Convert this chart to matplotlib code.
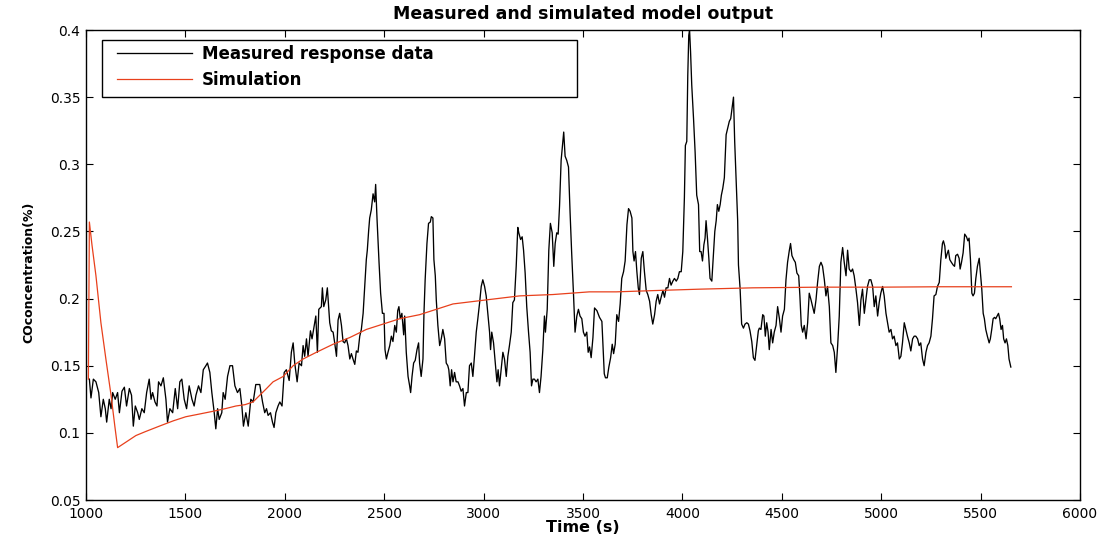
import matplotlib
matplotlib.use("Agg")
import matplotlib.pyplot as plt
from matplotlib.patches import Rectangle

plt.rcParams["font.family"] = ["DejaVu Sans"]

# Measured CO concentration (%) versus time (s)
meas_t = [
    1017, 1025, 1037, 1050, 1064, 1075, 1087, 1097, 1104, 1117, 1126, 1134, 1147, 1159,
    1168, 1181, 1193, 1204, 1218, 1229, 1238, 1248, 1260, 1268, 1281, 1293, 1305, 1318,
    1327, 1335, 1347, 1357, 1365, 1377, 1389, 1402, 1410, 1422, 1436, 1449, 1461, 1472,
    1482, 1494, 1506, 1519, 1533, 1544, 1553, 1566, 1578, 1590, 1603, 1611, 1623, 1633,
    1645, 1653, 1662, 1670, 1683, 1690, 1700, 1712, 1724, 1737, 1749, 1762, 1774, 1784,
    1792, 1804, 1816, 1829, 1841, 1854,
    1874, 1888, 1899, 1908, 1916, 1928, 1938, 1946, 1955, 1966, 1975, 1986, 1997, 2008,
    2022, 2033, 2042, 2050, 2062, 2072, 2084, 2092, 2100, 2109, 2117, 2129, 2137, 2146,
    2156, 2164, 2171, 2184, 2189, 2196, 2206, 2214, 2226, 2234, 2243, 2251, 2260, 2268,
    2276, 2285, 2293, 2301, 2310, 2318, 2327, 2335, 2343, 2352, 2360, 2368, 2377, 2385,
    2394, 2402, 2410, 2415, 2422, 2427, 2435, 2444, 2452, 2457, 2464, 2474, 2482, 2491,
    2499, 2504, 2511, 2519, 2528, 2536, 2544, 2553, 2561, 2568, 2574, 2581, 2589, 2598,
    2603, 2611, 2620, 2628, 2633, 2640, 2648, 2656, 2665, 2673, 2678,
    2686, 2695, 2700, 2706, 2715, 2723, 2732, 2737, 2745, 2750, 2757, 2762, 2770, 2779,
    2787, 2795, 2804, 2812, 2820, 2825, 2832, 2839, 2846, 2854, 2862, 2871, 2879, 2887,
    2896, 2904, 2913, 2921, 2929, 2938, 2946, 2954, 2963, 2971, 2980, 2988, 2996, 3005,
    3013, 3021, 3030, 3035, 3041, 3050, 3060, 3067, 3073, 3080, 3088, 3097, 3105, 3114,
    3122, 3130, 3139, 3147, 3155, 3164, 3172, 3177, 3186, 3194, 3201, 3209, 3217, 3226,
    3234, 3241, 3248, 3256, 3264, 3273, 3281, 3289, 3298, 3306, 3311, 3320, 3328, 3336,
    3345, 3353, 3360, 3368, 3375, 3382, 3390, 3398, 3403, 3410, 3418, 3427, 3435, 3443,
    3452, 3460, 3469, 3477, 3485, 3494, 3502, 3510, 3519, 3526,
    3533, 3541, 3550, 3558, 3570, 3583, 3595, 3600, 3607, 3613, 3622, 3630, 3639, 3647,
    3654, 3662, 3670, 3679, 3687, 3695, 3704, 3712, 3721, 3729, 3737, 3746, 3751, 3757,
    3764, 3771, 3778, 3784, 3793, 3801, 3809, 3818, 3826, 3835, 3843, 3851, 3860, 3868,
    3876, 3885, 3893, 3902, 3910, 3918, 3927, 3935, 3943, 3952, 3960, 3969, 3977, 3985,
    3994, 4002, 4010, 4015, 4022, 4027, 4032, 4036, 4041, 4047, 4056, 4064, 4072, 4081,
    4087, 4094, 4101, 4108, 4114, 4119, 4126, 4133, 4139, 4148, 4156, 4163, 4170, 4176,
    4183, 4190, 4196, 4203, 4211, 4220, 4228, 4236, 4243, 4250, 4257, 4263, 4270, 4278,
    4282, 4290, 4298, 4307, 4315, 4324, 4332, 4340, 4349, 4357, 4365, 4374, 4382, 4387,
    4395, 4404, 4410, 4417, 4424, 4431, 4437, 4446, 4454, 4462, 4471, 4479, 4488, 4496,
    4504, 4513, 4521, 4529, 4538, 4544, 4551, 4560, 4568, 4576, 4585, 4591, 4598, 4605,
    4613, 4622, 4630, 4638, 4647, 4655, 4663, 4672, 4680, 4689, 4697, 4705, 4714, 4722,
    4730, 4739, 4747, 4756, 4764, 4772, 4781, 4789, 4797, 4806, 4814, 4823, 4831, 4839,
    4848, 4856, 4864, 4873, 4881, 4890, 4898, 4906, 4915, 4923, 4931, 4940, 4948, 4957,
    4965, 4973, 4982, 4990, 4998, 5007, 5015, 5024, 5032, 5040, 5049, 5057, 5065, 5074,
    5082, 5091, 5099, 5107, 5116, 5124, 5132, 5141, 5149, 5158, 5166, 5174, 5183, 5191,
    5199, 5208, 5216, 5225, 5233, 5241,
    5250, 5258, 5266, 5275, 5283, 5292, 5300, 5308, 5313, 5320, 5325, 5333, 5338, 5345,
    5353, 5362, 5369, 5375, 5384, 5392, 5397, 5404, 5412, 5420, 5429, 5436, 5442, 5449,
    5456, 5462, 5469, 5476, 5484, 5493, 5499, 5506, 5513, 5519, 5526, 5534, 5543, 5549,
    5556, 5563, 5570, 5576, 5583, 5590, 5596, 5603, 5610, 5616, 5623, 5630, 5637, 5643,
    5652,
]
meas_v = [
    0.140, 0.126, 0.140, 0.138, 0.130, 0.112, 0.125, 0.118, 0.108, 0.125, 0.118, 0.130, 0.125, 0.130,
    0.115, 0.131, 0.134, 0.120, 0.133, 0.128, 0.105, 0.120, 0.115, 0.110, 0.118, 0.115, 0.130, 0.140,
    0.125, 0.130, 0.123, 0.120, 0.138, 0.135, 0.141, 0.125, 0.108, 0.118, 0.115, 0.133, 0.118, 0.138,
    0.140, 0.125, 0.118, 0.135, 0.125, 0.120, 0.128, 0.135, 0.130, 0.147, 0.150, 0.152, 0.145, 0.130,
    0.115, 0.103, 0.118, 0.110, 0.115, 0.130, 0.125, 0.142, 0.150, 0.150, 0.135, 0.130, 0.133, 0.120,
    0.105, 0.115, 0.105, 0.125, 0.123, 0.136,
    0.136, 0.123, 0.115, 0.118, 0.113, 0.115, 0.108, 0.104, 0.115, 0.120, 0.123, 0.120, 0.145, 0.147,
    0.139, 0.160, 0.167, 0.152, 0.138, 0.152, 0.150, 0.165, 0.157, 0.170, 0.157, 0.176, 0.170, 0.178,
    0.187, 0.160, 0.192, 0.194, 0.208, 0.194, 0.199, 0.208, 0.182, 0.176, 0.175, 0.167, 0.157, 0.184,
    0.189, 0.180, 0.168, 0.167, 0.170, 0.165, 0.155, 0.159, 0.155, 0.151, 0.161, 0.160, 0.172, 0.177,
    0.189, 0.209, 0.229, 0.236, 0.251, 0.260, 0.266, 0.278, 0.272, 0.285, 0.259, 0.227, 0.204, 0.189,
    0.189, 0.162, 0.155, 0.160, 0.165, 0.172, 0.168, 0.180, 0.175, 0.191, 0.194, 0.185, 0.189, 0.173,
    0.187, 0.160, 0.142, 0.135, 0.130, 0.142, 0.152, 0.154, 0.162, 0.167, 0.152,
    0.142, 0.155, 0.189, 0.214, 0.241, 0.256, 0.257, 0.261, 0.260, 0.229, 0.217, 0.199, 0.180, 0.165,
    0.170, 0.177, 0.170, 0.152, 0.150, 0.147, 0.135, 0.147, 0.138, 0.145, 0.138, 0.138, 0.135, 0.131,
    0.133, 0.120, 0.130, 0.130, 0.150, 0.152, 0.142, 0.157, 0.175, 0.185, 0.197, 0.209, 0.214, 0.209,
    0.202, 0.189, 0.175, 0.162, 0.175, 0.167, 0.150, 0.138, 0.147, 0.135, 0.147, 0.160, 0.155, 0.142,
    0.157, 0.165, 0.175, 0.197, 0.199, 0.224, 0.253, 0.249, 0.244, 0.246, 0.236, 0.219, 0.194, 0.175,
    0.160, 0.135, 0.140, 0.140, 0.138, 0.140, 0.130, 0.142, 0.162, 0.187, 0.175, 0.192, 0.236, 0.256,
    0.249, 0.224, 0.241, 0.249, 0.248, 0.269, 0.303, 0.316, 0.324, 0.306, 0.303, 0.298, 0.264, 0.234,
    0.204, 0.175, 0.187, 0.192, 0.187, 0.185, 0.175, 0.172, 0.175, 0.160,
    0.164, 0.156, 0.171, 0.193, 0.191, 0.186, 0.183, 0.166, 0.144, 0.141, 0.141, 0.149, 0.156, 0.166,
    0.159, 0.166, 0.188, 0.183, 0.196, 0.215, 0.220, 0.228, 0.255, 0.267, 0.265, 0.260, 0.235, 0.228,
    0.235, 0.220, 0.208, 0.203, 0.230, 0.235, 0.220, 0.206, 0.203, 0.198, 0.188, 0.181, 0.188, 0.198,
    0.203, 0.196, 0.201, 0.206, 0.201, 0.208, 0.208, 0.215, 0.210, 0.213, 0.215, 0.213, 0.215, 0.220,
    0.220, 0.235, 0.275, 0.314, 0.317, 0.366, 0.396, 0.400, 0.384, 0.359, 0.334, 0.309, 0.277, 0.270,
    0.235, 0.235, 0.228, 0.240, 0.245, 0.258, 0.245, 0.230, 0.215, 0.213, 0.233, 0.250, 0.258, 0.270,
    0.265, 0.270, 0.277, 0.282, 0.290, 0.322, 0.327, 0.332, 0.334, 0.342, 0.350, 0.317, 0.290, 0.258,
    0.225, 0.208, 0.181, 0.178, 0.181, 0.182, 0.181, 0.176, 0.168, 0.156, 0.154, 0.166, 0.176, 0.178,
    0.177, 0.188, 0.187, 0.172, 0.182, 0.175, 0.162, 0.177, 0.167, 0.175, 0.180, 0.194, 0.185, 0.175,
    0.187, 0.192, 0.214, 0.227, 0.236, 0.241, 0.232, 0.229, 0.227, 0.219, 0.217, 0.202, 0.180, 0.175,
    0.180, 0.170, 0.182, 0.204, 0.199, 0.194, 0.189, 0.199, 0.212, 0.224, 0.227, 0.224, 0.214, 0.202,
    0.209, 0.194, 0.167, 0.165, 0.160, 0.145, 0.165, 0.187, 0.227, 0.238, 0.227, 0.217, 0.236, 0.222,
    0.220, 0.222, 0.217, 0.207, 0.197, 0.180, 0.199, 0.207, 0.189, 0.199, 0.209, 0.214, 0.214, 0.209,
    0.194, 0.202, 0.187, 0.197, 0.204, 0.209, 0.202, 0.189, 0.182, 0.175, 0.177, 0.170, 0.172, 0.165,
    0.167, 0.155, 0.157, 0.167, 0.182, 0.177, 0.172, 0.167, 0.161, 0.170, 0.172, 0.172, 0.170, 0.165,
    0.167, 0.155, 0.150, 0.160, 0.165, 0.167,
    0.172, 0.185, 0.202, 0.203, 0.209, 0.212, 0.229, 0.241, 0.243, 0.239, 0.230, 0.234, 0.236, 0.229,
    0.227, 0.225, 0.224, 0.232, 0.233, 0.230, 0.222, 0.227, 0.234, 0.248, 0.246, 0.243, 0.245, 0.229,
    0.204, 0.202, 0.204, 0.215, 0.224, 0.230, 0.219, 0.207, 0.189, 0.185, 0.177, 0.172, 0.167, 0.170,
    0.177, 0.185, 0.186, 0.185, 0.187, 0.189, 0.185, 0.177, 0.180, 0.170, 0.167, 0.170, 0.165, 0.155,
    0.149,
]

# Simulated model output
sim_t = [1012, 1017, 1030, 1050, 1075, 1100, 1126, 1145, 1159, 1200, 1251, 1300, 1369, 1440,
         1502, 1570, 1637, 1700, 1754, 1800, 1840, 1874, 1908, 1941, 1992, 2042, 2092, 2159,
         2243, 2327, 2410, 2494, 2578, 2678, 2846, 3013, 3181, 3348, 3532, 3667, 3868, 4086,
         4354, 4700, 5000, 5300, 5655]
sim_v = [0.140, 0.257, 0.240, 0.217, 0.182, 0.155, 0.128, 0.105, 0.089, 0.093, 0.098, 0.101,
         0.105, 0.109, 0.112, 0.114, 0.116, 0.118, 0.120, 0.121, 0.123, 0.128, 0.133, 0.138,
         0.142, 0.150, 0.155, 0.160, 0.166, 0.171, 0.177, 0.181, 0.185, 0.188, 0.196, 0.199,
         0.202, 0.203, 0.205, 0.205, 0.206, 0.207, 0.208, 0.2085, 0.2085, 0.2088, 0.2088]

x_ticks = [1000, 1500, 2000, 2500, 3000, 3500, 4000, 4500, 5000, 5500, 6000]
y_ticks = [0.05, 0.1, 0.15, 0.2, 0.25, 0.3, 0.35, 0.4]

W, H = 1111, 536
fig = plt.figure(figsize=(W / 100, H / 100), dpi=100)
ax = fig.add_axes([86 / W, (H - 500) / H, (1080 - 86) / W, (500 - 30) / H])

ax.plot(meas_t, meas_v, color="black", lw=0.95, label="Measured response data")
ax.plot(sim_t, sim_v, color="#e8401c", lw=0.9, label="Simulation")

ax.set_xlim(1000, 6000)
ax.set_ylim(0.05, 0.4)
ax.set_xticks(x_ticks)
ax.set_yticks(y_ticks)
ax.set_xticklabels([str(v) for v in x_ticks])
ax.set_yticklabels([f"{v:g}" for v in y_ticks])
ax.tick_params(direction="in", length=5, width=0.8, top=True, right=True,
               labelsize=10)
ax.tick_params(axis="x", pad=5)
ax.tick_params(axis="y", pad=4)
for s in ax.spines.values():
    s.set_linewidth(1.0)

ax.set_title("Measured and simulated model output", fontsize=12.5, fontweight="bold", pad=8)
ax.set_xlabel("Time (s)", fontsize=11.5, fontweight="bold", labelpad=-1)
ax.set_ylabel("COconcentration(%)", fontsize=9, fontweight="bold")
ax.yaxis.set_label_coords(-0.051, 0.485)

# Legend frame spanning a fixed box in the upper-left corner of the axes
frame = Rectangle((102 / W, 1 - 97 / H), (577 - 102) / W, (97 - 40) / H,
                  transform=fig.transFigure, facecolor="white", edgecolor="black",
                  lw=1.0, zorder=4, clip_on=False)
ax.add_patch(frame)
leg = ax.legend(loc="upper left", bbox_to_anchor=(117 / W, 1 - 45 / H),
                bbox_transform=fig.transFigure, frameon=False,
                prop={"weight": "bold", "size": 12},
                handlelength=4.5, handletextpad=0.6, borderpad=0,
                labelspacing=0.5, borderaxespad=0)
leg.set_zorder(5)

fig.savefig("out.png", dpi=100)
